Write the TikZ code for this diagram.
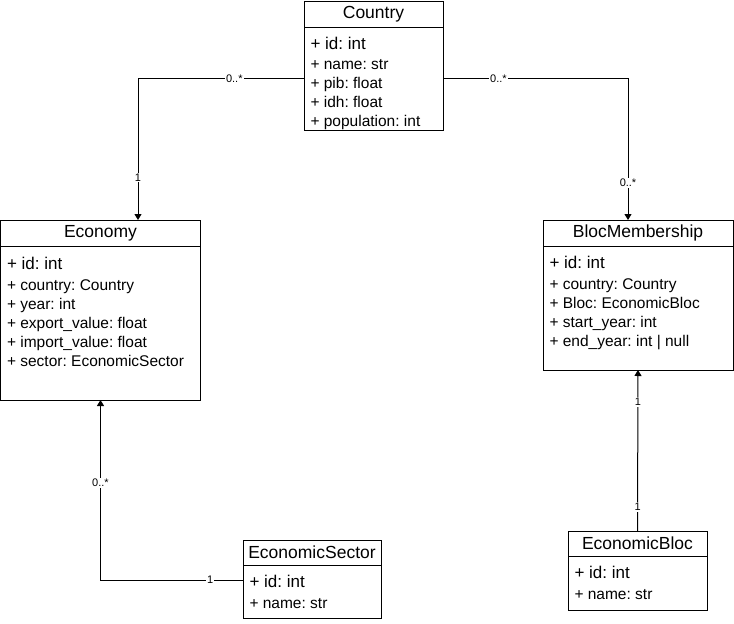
\documentclass[tikz,border=0pt]{standalone}
\usepackage{fontspec}
\setmainfont{Liberation Sans}
\usetikzlibrary{positioning, arrows.meta}

\newcommand{\idline}[1]{{\fontsize{17}{21}\selectfont #1}}
\frenchspacing

\begin{document}
\begin{tikzpicture}[
			x = 1pt, y = -1pt,
			line width = 1pt,
			classhead/.style = {rectangle, draw, anchor = north west, inner sep = 0pt, outer sep = 0pt, minimum height = 26pt, font = \fontsize{17.5}{21}\selectfont},
			classbody/.style = {rectangle, draw, inner sep = 0pt, outer sep = 0pt},
			attrs/.style = {align = left, inner sep = 0pt, anchor = north west, font = \fontsize{15.5}{19}\selectfont},
			mult/.style = {fill = white, inner sep = 1pt, font = \fontsize{11}{12}\selectfont},
			assoc/.style = {-{Triangle[width = 7pt, length = 6pt]}}
		]
		\useasboundingbox (0,0) rectangle (734,624);

		\node[classhead, minimum width = 139pt] (country) at (304,1) {Country};
		\node[classbody, minimum width = 139pt, minimum height = 103pt, below = 0pt of country] (countryBody) {};
		\node[attrs, below right = 10pt and 6pt of countryBody.north west] (countryAttrs) {\idline{+ id: int}\\[1pt]
			+ name: str\\
			+ pib: float\\
			+ idh: float\\
			+ population: int};

		\node[classhead, minimum width = 200pt] (economy) at (0.5,220) {Economy};
		\node[classbody, minimum width = 200pt, minimum height = 154pt, below = 0pt of economy] (economyBody) {};
		\node[attrs, below right = 11pt and 6pt of economyBody.north west] (economyAttrs) {\idline{+ id: int}\\[2pt]
			+ country: Country\\
			+ year: int\\
			+ export\_value: float\\
			+ import\_value: float\\
			+ sector: EconomicSector};

		\node[classhead, minimum width = 190pt] (membership) at (543,220) {BlocMembership};
		\node[classbody, minimum width = 190pt, minimum height = 124pt, below = 0pt of membership] (membershipBody) {};
		\node[attrs, below right = 10pt and 6pt of membershipBody.north west] (membershipAttrs) {\idline{+ id: int}\\[2pt]
			+ country: Country\\
			+ Bloc: EconomicBloc\\
			+ start\_year: int\\
			+ end\_year: int | null};

		\node[classhead, minimum width = 138pt, minimum height = 25pt] (sector) at (243,540) {EconomicSector};
		\node[classbody, minimum width = 138pt, minimum height = 53pt, below = 0pt of sector] (sectorBody) {};
		\node[attrs, below right = 10pt and 6pt of sectorBody.north west] (sectorAttrs) {\idline{+ id: int}\\[2pt]
			+ name: str};

		\node[classhead, minimum width = 139pt, minimum height = 25pt] (bloc) at (568,531) {EconomicBloc};
		\node[classbody, minimum width = 139pt, minimum height = 54pt, below = 0pt of bloc] (blocBody) {};
		\node[attrs, below right = 10pt and 6pt of blocBody.north west] (blocAttrs) {\idline{+ id: int}\\[2pt]
			+ name: str};

		\draw[assoc] (countryBody.west) -| node[mult, pos = 0.21] (countryEconomyMany) {0..*} node[mult, pos = 0.85] (countryEconomyOne) {1} ([xshift = 37.5pt]economy.north);
		\draw[assoc] (countryBody.east) -| node[mult, pos = 0.15] (countryBlocMany) {0..*} node[mult, pos = 0.87] (countryBlocManyEnd) {0..*} ([xshift = -10pt]membership.north);
		\draw[assoc] ([yshift = 11.5pt]sectorBody.west) -| node[mult, pos = 0.115] (sectorOne) {1} node[mult, pos = 0.77] (sectorMany) {0..*} (economyBody.south);
		\draw[assoc] (bloc.north) -- node[mult, pos = 0.15] (blocOne) {1} node[mult, pos = 0.8] (blocOneEnd) {1} (membershipBody.south);
	\end{tikzpicture}
\end{document}
